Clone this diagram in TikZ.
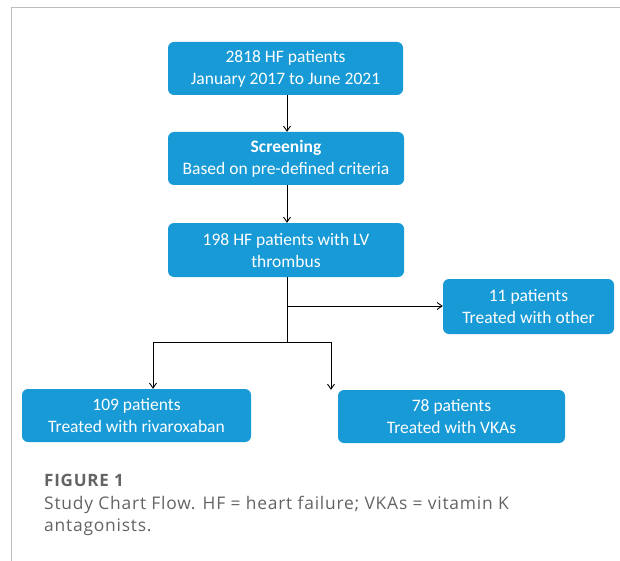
\documentclass[tikz,border=0pt]{standalone}
\usepackage{fontspec}
\setmainfont{Carlito}
\newfontfamily\capfont[LetterSpace=4.5]{Open Sans}
\usetikzlibrary{arrows.meta}
\definecolor{boxblue}{RGB}{24,154,214}
\definecolor{capgray}{RGB}{100,100,100}
\definecolor{framegray}{RGB}{190,190,190}
\tikzset{
  flowbox/.style={draw=none, fill=boxblue, rounded corners=6pt, text=white, align=center, font=\fontsize{17.5}{22}\selectfont, inner sep=0pt},
  conn/.style={draw=black, line width=0.9pt, -{Straight Barb[length=5pt,width=7pt]}},
  plain/.style={draw=black, line width=0.9pt},
  captext/.style={anchor=base west, inner sep=0pt, text=capgray}
}
\begin{document}
\begin{tikzpicture}[x=1pt,y=-1pt]
\useasboundingbox (0,0) rectangle (620,561);
\fill[white] (0,0) rectangle (620,561);
\draw[framegray, line width=1pt] (620,8) -- (11,8) -- (11,561);
\node[flowbox, minimum width=235pt, minimum height=53pt] (a) at (285.5,68.5) {2818 HF patients\\January 2017 to June 2021};
\node[flowbox, minimum width=236pt, minimum height=53pt] (b) at (286,158.5) {\textbf{Screening}\\Based on pre-defined criteria};
\node[flowbox, minimum width=236pt, minimum height=54pt] (c) at (286,250) {198 HF patients with LV\\thrombus};
\node[flowbox, minimum width=171pt, minimum height=55pt] (d) at (528.5,306.5) {11 patients\\Treated with other};
\node[flowbox, minimum width=229pt, minimum height=53pt] (e) at (136.5,415.5) {109 patients\\Treated with rivaroxaban};
\node[flowbox, minimum width=227pt, minimum height=53pt] (f) at (451.5,416.5) {78 patients\\Treated with VKAs};
\coordinate (split) at (287,306);
\coordinate (fork) at (287,342);
\draw[conn] (a.south -| 287,0) -- (b.north -| 287,0);
\draw[conn] (b.south -| 287,0) -- (c.north -| 287,0);
\draw[plain] (c.south -| 287,0) -- (fork);
\draw[conn] (split) -- (d.west |- split);
\draw[conn] (fork) -| ([xshift=16.5pt]e.north);
\draw[conn] (fork) -| ([xshift=-120.5pt]f.north);
\node[captext, font=\capfont\bfseries\fontsize{17}{20}\selectfont] (cap1) at (44,486) {FIGURE 1};
\node[captext, font=\capfont\fontsize{17.4}{20}\selectfont] (cap2) at (44,509) {Study Chart Flow. HF = heart failure; VKAs = vitamin K};
\node[captext, font=\capfont\fontsize{17.4}{20}\selectfont] (cap3) at (44,531) {antagonists.};
\end{tikzpicture}
\end{document}
